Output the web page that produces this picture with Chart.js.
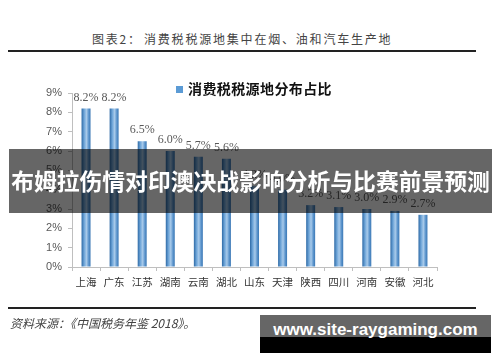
<!DOCTYPE html>
<html>
<head>
<meta charset="utf-8">
<script src="https://cdn.jsdelivr.net/npm/chart.js@4"></script>
<style>
  body { margin: 0; width: 500px; height: 362px; position: relative; background: #fff; overflow: hidden; font-family: "Noto Sans CJK SC", sans-serif; }
  .rule { position: absolute; left: 8px; width: 468px; height: 2px; background: #222; }
  .title { position: absolute; top: 31px; font-size: 12px; color: #444; letter-spacing: 1.8px; white-space: nowrap; line-height: 16px; }
  #chart { position: absolute; left: 0; top: 0; }
  #src { position: absolute; left: 10px; top: 315px; font-size: 12px; font-style: italic; color: #444; white-space: nowrap; line-height: 16px; }
  #banner { position: absolute; left: 9px; top: 149px; width: 483px; height: 64px; background: rgba(0,0,0,0.6); color: #fff; font-weight: bold; font-size: 22.8px; line-height: 64px; text-align: center; white-space: nowrap; }
  #wm { position: absolute; left: 260px; top: 315px; width: 231px; height: 38px; background: linear-gradient(#666 0, #666 58%, #000 58%, #000 100%); color: #fff; font-family: "Liberation Sans", sans-serif; font-weight: bold; font-size: 17px; line-height: 30px; text-align: center; white-space: nowrap; }
</style>
</head>
<body>
<div class="title" style="left:92px">图表2：</div>
<div class="title" style="left:144px">消费税税源地集中在烟、油和汽车生产地</div>
<div class="rule" style="top:50px"></div>
<canvas id="chart" width="500" height="362"></canvas>
<div class="rule" style="top:307px"></div>
<div id="src">资料来源：《中国税务年鉴 2018》。</div>
<div id="banner">布姆拉伤情对印澳决战影响分析与比赛前景预测</div>
<div id="wm">www.site-raygaming.com</div>

<script>
const provinces = ["上海", "广东", "江苏", "湖南", "云南", "湖北", "山东", "天津", "陕西", "四川", "河南", "安徽", "河北"];
const shares = [8.2, 8.2, 6.5, 6.0, 5.7, 5.6, 4.2, 4.0, 3.2, 3.1, 3.0, 2.9, 2.7];
const seriesName = "消费税税源地分布占比";
const yMax = 9;

// cylinder-like shading across each bar
function barFill(ctx) {
  const chart = ctx.chart;
  const x = chart.scales.x;
  if (!x || ctx.dataIndex === undefined) return "#5b9bd5";
  const cx = x.getPixelForValue(ctx.dataIndex);
  if (!isFinite(cx)) return "#5b9bd5";
  const g = chart.ctx.createLinearGradient(cx - 4.5, 0, cx + 4.5, 0);
  g.addColorStop(0, "#2e6aa6");
  g.addColorStop(0.3, "#6fa6d9");
  g.addColorStop(0.55, "#a8caea");
  g.addColorStop(0.8, "#5b94cc");
  g.addColorStop(1, "#3b78b5");
  return g;
}

// value labels above bars
const valueLabels = {
  id: "valueLabels",
  afterDatasetsDraw(chart) {
    const ctx = chart.ctx;
    const meta = chart.getDatasetMeta(0);
    ctx.save();
    ctx.font = "12px 'Liberation Serif', serif";
    ctx.fillStyle = "#595959";
    ctx.textAlign = "center";
    ctx.textBaseline = "middle";
    meta.data.forEach((bar, i) => {
      ctx.fillText(shares[i].toFixed(1) + "%", bar.x, bar.y - 11);
    });
    ctx.restore();
  }
};

// legend sits inside the plot, drawn by hand
const innerLegend = {
  id: "innerLegend",
  afterDraw(chart) {
    const ctx = chart.ctx;
    ctx.save();
    ctx.fillStyle = "#5b9bd5";
    ctx.fillRect(176, 86, 7, 7);
    ctx.font = "bold 14px 'Noto Sans CJK SC'";
    ctx.letterSpacing = "0.4px";
    ctx.fillStyle = "#111";
    ctx.textBaseline = "middle";
    ctx.fillText(chart.data.datasets[0].label, 188, 89);
    ctx.restore();
  }
};

new Chart(document.getElementById("chart"), {
  type: "bar",
  data: {
    labels: provinces,
    datasets: [{
      label: seriesName,
      data: shares,
      backgroundColor: barFill,
      borderColor: "#2e6aa6",
      borderWidth: 0,
      barPercentage: 0.32,
      categoryPercentage: 1
    }]
  },
  options: {
    responsive: false,
    animation: false,
    devicePixelRatio: 1,
    layout: { padding: { left: 0, right: 63, top: 93, bottom: 0 } },
    plugins: {
      legend: { display: false },
      tooltip: { enabled: false }
    },
    scales: {
      x: {
        border: { color: "#bfbfbf", width: 1 },
        grid: { drawOnChartArea: false, drawTicks: true, tickLength: 4, color: "#bfbfbf", offset: true },
        ticks: { color: "#333", font: { family: "'Noto Sans CJK SC'", size: 10.5 }, padding: 5, maxRotation: 0 },
        afterFit: (s) => { s.height = 95; }
      },
      y: {
        min: 0,
        max: yMax,
        border: { color: "#bfbfbf", width: 1 },
        grid: { drawOnChartArea: false, drawTicks: true, tickLength: 4, color: "#bfbfbf" },
        ticks: {
          stepSize: 1,
          color: "#595959",
          padding: 6,
          font: { family: "'Liberation Sans'", size: 11 },
          callback: (v) => v + "%"
        },
        afterFit: (s) => { s.width = 72; }
      }
    }
  },
  plugins: [valueLabels, innerLegend]
});
</script>
</body>
</html>
